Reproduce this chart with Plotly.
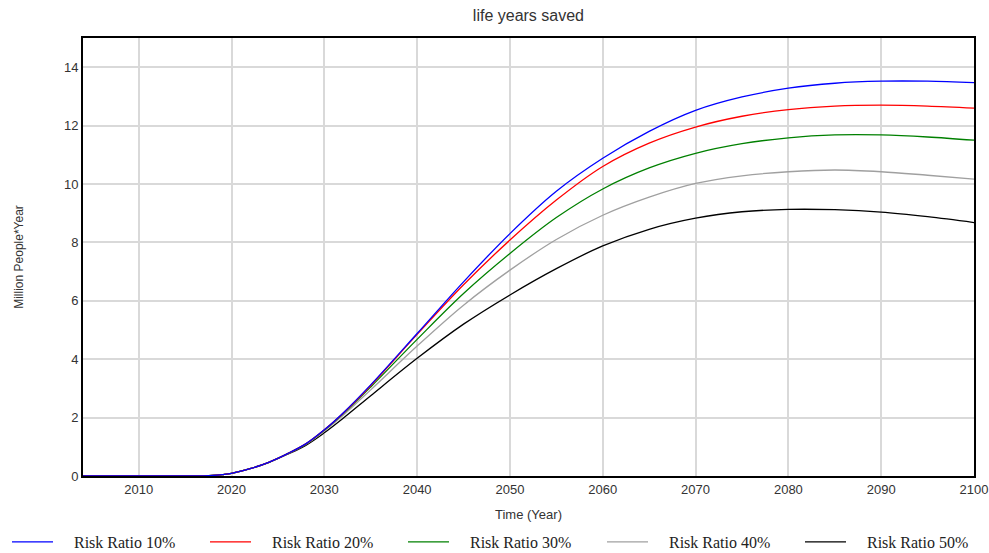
import plotly.graph_objects as go

years = [2004, 2010, 2015, 2016, 2017, 2018, 2019, 2020, 2022, 2024, 2026, 2028, 2030,
         2032, 2035, 2040, 2045, 2050, 2055, 2060, 2065, 2070, 2075, 2080, 2085, 2090, 2095, 2100]

rr10 = [0, 0, 0, 0, 0.005, 0.02, 0.05, 0.09, 0.25, 0.47, 0.76, 1.1, 1.58,
        2.15, 3.12, 4.88, 6.65, 8.3, 9.75, 10.88, 11.8, 12.52, 12.98, 13.28, 13.45, 13.52, 13.52, 13.47]
rr20 = [0, 0, 0, 0, 0.005, 0.02, 0.05, 0.09, 0.25, 0.47, 0.76, 1.1, 1.58,
        2.14, 3.1, 4.85, 6.55, 8.08, 9.45, 10.6, 11.4, 11.95, 12.32, 12.55, 12.67, 12.7, 12.67, 12.6]
rr30 = [0, 0, 0, 0, 0.005, 0.02, 0.05, 0.09, 0.25, 0.47, 0.76, 1.09, 1.57,
        2.12, 3.05, 4.68, 6.25, 7.62, 8.85, 9.83, 10.55, 11.05, 11.38, 11.58, 11.68, 11.68, 11.61, 11.5]
rr40 = [0, 0, 0, 0, 0.005, 0.02, 0.05, 0.09, 0.25, 0.47, 0.75, 1.08, 1.54,
        2.07, 2.95, 4.45, 5.85, 7.05, 8.1, 8.93, 9.55, 10.02, 10.28, 10.42, 10.48, 10.42, 10.3, 10.17]
rr50 = [0, 0, 0, 0, 0.005, 0.02, 0.05, 0.09, 0.25, 0.46, 0.74, 1.05, 1.48,
        1.97, 2.75, 4.03, 5.2, 6.2, 7.1, 7.88, 8.45, 8.83, 9.05, 9.13, 9.12, 9.04, 8.88, 8.68]

series_names = ["Risk Ratio 10%", "Risk Ratio 20%", "Risk Ratio 30%", "Risk Ratio 40%", "Risk Ratio 50%"]
series_values = [rr10, rr20, rr30, rr40, rr50]
colors = ["#0000ff", "#ff0000", "#008000", "#a0a0a0", "#000000"]

W, H = 989, 553
ML, MR, MT, MB = 83, 15, 38, 77
plot_w = W - ML - MR
plot_h = H - MT - MB
legend_line_starts = [12, 210, 408, 607, 805]   # pixel positions of legend entries
legend_center_y = 542

fig = go.Figure()
legend_layouts = {}
# draw in reverse so the 10% series lies on top, as in the reference
for i in reversed(range(len(series_names))):
    name, vals, col = series_names[i], series_values[i], colors[i]
    key = "legend" if i == 0 else f"legend{i + 1}"
    fig.add_trace(go.Scatter(x=years, y=vals, mode="lines", name="\u00a0\u00a0\u00a0\u00a0" + name,
                             legend=key, hoverinfo="skip",
                             line=dict(color=col, width=1.3, shape="spline", smoothing=1.0)))
    legend_layouts[key] = dict(
        orientation="h", x=(legend_line_starts[i] - 5 - ML) / plot_w, xanchor="left",
        y=(MT + plot_h - legend_center_y) / plot_h, yanchor="middle", itemwidth=41,
        font=dict(family="Liberation Serif, Times New Roman", size=16, color="#222222"),
        bgcolor="rgba(0,0,0,0)", borderwidth=0)

fig.update_layout(
    width=W, height=H,
    margin=dict(l=ML, r=MR, t=MT, b=MB, autoexpand=False),
    paper_bgcolor="white", plot_bgcolor="white",
    title=dict(text="life years saved", x=0.5343, xanchor="center", y=0.972, yanchor="middle",
               font=dict(family="Liberation Sans, Arial", size=16, color="#333333")),
    font=dict(family="Liberation Sans, Arial", size=13, color="#333333"),
    xaxis=dict(range=[2004, 2100], tickvals=list(range(2010, 2101, 10)),
               showgrid=True, gridcolor="#d9d9d9", gridwidth=1.5,
               showline=True, linecolor="black", linewidth=2, mirror=True,
               ticks="", zeroline=False, automargin=False,
               title=dict(text="Time (Year)", font=dict(size=13), standoff=14),
               tickfont=dict(size=13)),
    yaxis=dict(range=[0, 15], tickvals=list(range(0, 15, 2)),
               showgrid=True, gridcolor="#d9d9d9", gridwidth=1.5,
               showline=True, linecolor="black", linewidth=2, mirror=True,
               ticks="", zeroline=False, automargin=False,
               title=dict(text="Million People*Year", font=dict(size=12), standoff=38),
               tickfont=dict(size=13)),
    showlegend=True,
    hovermode=False,
    **legend_layouts,
)

fig.write_html("out.html", config={"displayModeBar": False},
               post_script="document.body.style.margin='0';")
